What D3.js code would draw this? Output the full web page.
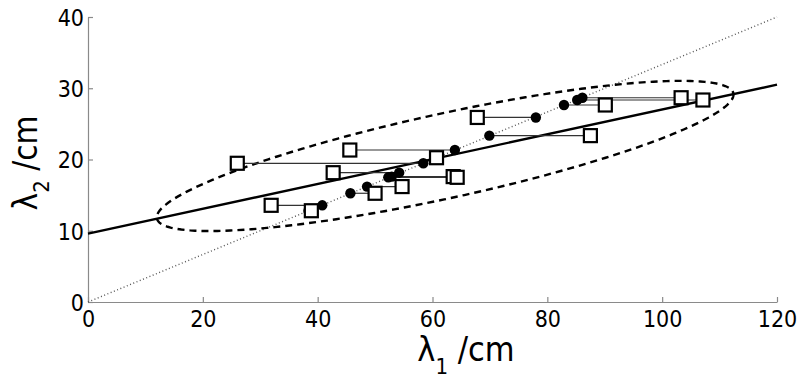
<!DOCTYPE html>
<html>
<head>
<meta charset="utf-8">
<script src="https://cdn.jsdelivr.net/npm/d3@7"></script>
<style>
  body { margin: 0; background: #fff; }
  svg { display: block; }
  .tick text { font-family: "Liberation Sans Narrow", "DejaVu Sans Condensed", sans-serif; font-size: 23px; fill: #000; }
</style>
</head>
<body>
<svg id="chart" width="800" height="383"></svg>
<script>
// observed points (squares)
var sqX = [26.0, 42.7, 31.9, 38.9, 45.6, 60.7, 63.6, 64.3, 54.7, 50.0, 67.8, 87.5, 90.1, 103.3, 107.1];
var sqY = [19.47, 18.15, 13.57, 12.81, 21.33, 20.25, 17.6, 17.5, 16.2, 15.26, 25.9, 23.35, 27.65, 28.67, 28.35];
// matched points (filled circles), same lambda2 as the square
var dotX = [58.4, 54.2, 40.8, 38.4, 63.9, 60.8, 52.9, 52.3, 48.6, 45.7, 78.0, 69.9, 82.9, 86.1, 85.2];

// fitted line and reference line (lambda2 = lambda1/3)
var fitX = [0, 120];
var fitY = [9.6, 30.5];
var refX = [0, 120];
var refY = [0, 40];

// dashed ellipse: centre and two conjugate half-axes
var ellCenter = [62.2, 20.5];
var ellAxisA = [50.2, 8.8];
var ellAxisB = [1.6, -5.8];

var xTicks = [0, 20, 40, 60, 80, 100, 120];
var yTicks = [0, 10, 20, 30, 40];

var svg = d3.select("#chart");

var x = d3.scaleLinear().domain([0, 120]).range([88, 777]);
var y = d3.scaleLinear().domain([0, 40]).range([302, 17]);

// axes
var xAxis = d3.axisBottom(x).tickValues(xTicks).tickSizeInner(-5).tickSizeOuter(0).tickPadding(9);
var yAxis = d3.axisLeft(y).tickValues(yTicks).tickSizeInner(-5).tickSizeOuter(0).tickPadding(4);

var gx = svg.append("g").attr("transform", "translate(0," + y(0) + ")").call(xAxis);
var gy = svg.append("g").attr("transform", "translate(" + x(0) + ",0)").call(yAxis);
svg.selectAll(".domain").attr("stroke", "#8a8a8a").attr("stroke-width", 1.2);
svg.selectAll(".tick line").attr("stroke", "#8a8a8a").attr("stroke-width", 1.2);
gy.selectAll(".tick text").attr("dy", "0.36em");

var line = d3.line().x(function (d) { return x(d[0]); }).y(function (d) { return y(d[1]); });

// dotted reference
svg.append("path")
    .datum(refX.map(function (v, i) { return [v, refY[i]]; }))
    .attr("d", line)
    .attr("fill", "none")
    .attr("stroke", "#555")
    .attr("stroke-width", 1.4)
    .attr("stroke-dasharray", "1,2.5");

// ellipse
var ellPts = d3.range(0, 361, 2).map(function (deg) {
    var t = deg * Math.PI / 180;
    return [ellCenter[0] + ellAxisA[0] * Math.cos(t) + ellAxisB[0] * Math.sin(t),
            ellCenter[1] + ellAxisA[1] * Math.cos(t) + ellAxisB[1] * Math.sin(t)];
});
svg.append("path")
    .datum(ellPts)
    .attr("d", line.curve(d3.curveLinearClosed))
    .attr("fill", "none")
    .attr("stroke", "#000")
    .attr("stroke-width", 2.4)
    .attr("stroke-dasharray", "7,5");
line.curve(d3.curveLinear);

// fitted line
svg.append("path")
    .datum(fitX.map(function (v, i) { return [v, fitY[i]]; }))
    .attr("d", line)
    .attr("fill", "none")
    .attr("stroke", "#000")
    .attr("stroke-width", 2.4);

// connectors
var pts = sqX.map(function (v, i) { return { sx: v, sy: sqY[i], dx: dotX[i] }; });
svg.append("g").selectAll("line").data(pts).join("line")
    .attr("x1", function (d) { return x(d.sx); })
    .attr("x2", function (d) { return x(d.dx); })
    .attr("y1", function (d) { return y(d.sy); })
    .attr("y2", function (d) { return y(d.sy); })
    .attr("stroke", "#333")
    .attr("stroke-width", 1.2);

svg.append("g").selectAll("circle").data(pts).join("circle")
    .attr("cx", function (d) { return x(d.dx); })
    .attr("cy", function (d) { return y(d.sy); })
    .attr("r", 5.2)
    .attr("fill", "#000");

var s = 13;
svg.append("g").selectAll("rect").data(pts).join("rect")
    .attr("x", function (d) { return x(d.sx) - s / 2; })
    .attr("y", function (d) { return y(d.sy) - s / 2; })
    .attr("width", s)
    .attr("height", s)
    .attr("fill", "#fff")
    .attr("stroke", "#000")
    .attr("stroke-width", 2.2);

// axis labels
var xl = svg.append("text")
    .attr("x", 466).attr("y", 361)
    .attr("text-anchor", "middle")
    .style("font-family", "'Liberation Sans Narrow', 'DejaVu Sans Condensed', sans-serif")
    .style("font-size", "34px");
xl.append("tspan").text("λ");
xl.append("tspan").text("1").attr("dy", 13).style("font-size", "22px");
xl.append("tspan").text(" /cm").attr("dy", -13);

var yl = svg.append("text")
    .attr("transform", "translate(37,163) rotate(-90)")
    .attr("text-anchor", "middle")
    .style("font-family", "'Liberation Sans Narrow', 'DejaVu Sans Condensed', sans-serif")
    .style("font-size", "33px");
yl.append("tspan").text("λ");
yl.append("tspan").text("2").attr("dy", 12).style("font-size", "22px");
yl.append("tspan").text(" /cm").attr("dy", -12);
</script>
</body>
</html>
